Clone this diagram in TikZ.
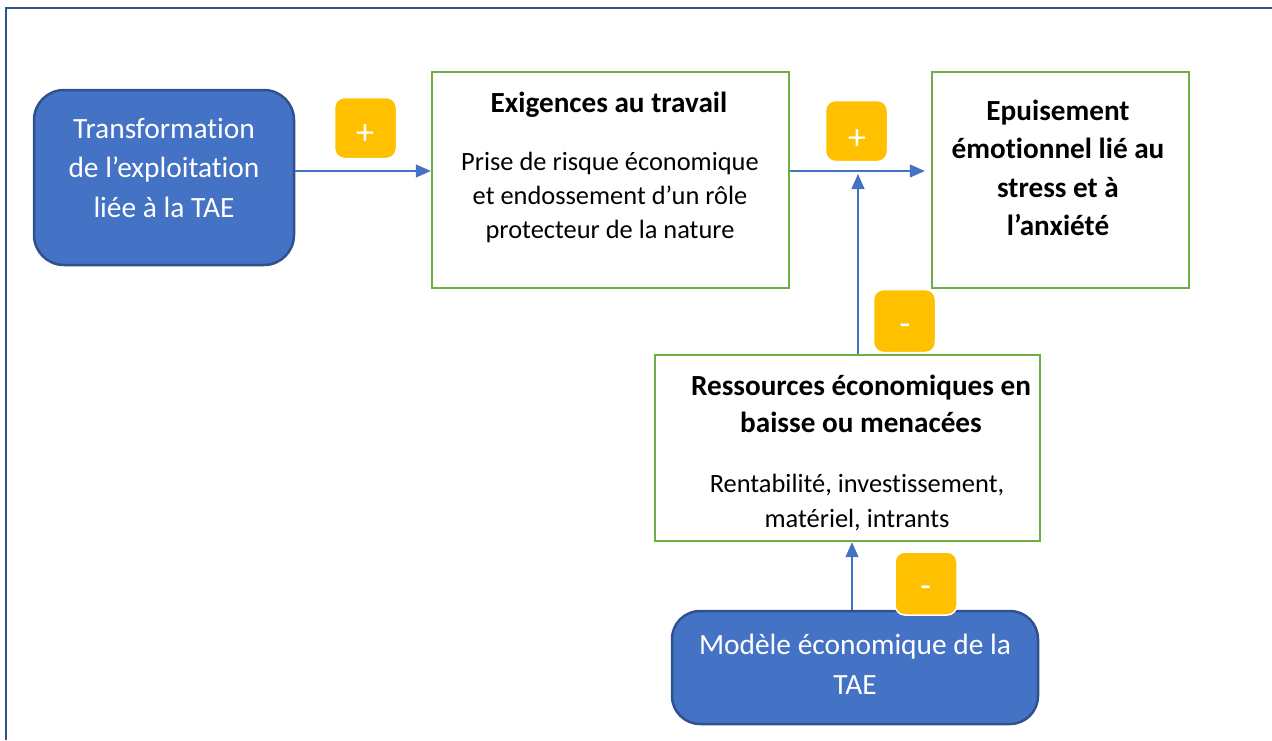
\documentclass[tikz,border=0pt]{standalone}
\usepackage{fontspec}
\setmainfont{Carlito}[Ligatures=NoCommon]
\usetikzlibrary{arrows.meta}
\definecolor{boxBlue}{HTML}{4472C4}
\definecolor{boxBlueDark}{HTML}{2F528F}
\definecolor{boxGreen}{HTML}{70AD47}
\definecolor{badgeOrange}{HTML}{FFC000}
\begin{document}
\begin{tikzpicture}[x=1pt, y=-1pt,
    blueStyle/.style={rectangle, draw=boxBlueDark, fill=boxBlue, line width=2.5pt, rounded corners=30pt, inner sep=0pt},
    greenStyle/.style={rectangle, draw=boxGreen, fill=white, line width=2.4pt, inner sep=0pt},
    badgeStyle/.style={rectangle, draw=white, fill=badgeOrange, line width=1.5pt, rounded corners=10pt, minimum width=62pt, minimum height=61pt},
    blueText/.style={anchor=base, align=center, text=white, inner sep=0pt, font=\fontsize{29.4}{39.5}\selectfont},
    titleText/.style={anchor=base, align=center, inner sep=0pt, font=\bfseries\fontsize{29.2}{37}\selectfont},
    bodyText/.style={anchor=base, align=center, inner sep=0pt, font=\fontsize{26.4}{34.5}\selectfont},
    signStyle/.style={text=white, inner sep=0pt, font=\fontsize{36}{40}\selectfont},
    arrowStyle/.style={draw=boxBlue, line width=1.2pt, -{Triangle[length=15pt, width=13pt]}}]
    \useasboundingbox (0,0) rectangle (1272,740);
    \draw[boxBlueDark, line width=2pt] (6,740) -- (6,8) -- (1272,8);

    \node[blueStyle, minimum width=260pt, minimum height=175pt] (trans) at (164, 177.5) {};
    \node[greenStyle, minimum width=357pt, minimum height=216pt] (exig) at (610.5, 180) {};
    \node[greenStyle, minimum width=257pt, minimum height=216pt] (epuis) at (1060.5, 180) {};
    \node[greenStyle, minimum width=385pt, minimum height=186pt] (ress) at (847.5, 448) {};
    \node[blueStyle, minimum width=366pt, minimum height=113pt, rounded corners=28pt] (modele) at (855, 667.5) {};

    % base anchors sit on the last line
    \node[blueText] (trans_t) at (164, 217) {Transformation\\de l’exploitation\\liée à la TAE};
    \node[titleText] (exig_t) at (609, 112) {Exigences au travail};
    \node[bodyText, font=\fontsize{26.4}{34}\selectfont] (exig_b) at (610, 238) {Prise de risque économique\\et endossement d’un rôle\\protecteur de la nature};
    \node[titleText, font=\bfseries\fontsize{29.2}{38.5}\selectfont] (epuis_t) at (1058, 235.5) {Epuisement\\émotionnel lié au\\stress et à\\l’anxiété};
    \node[titleText] (ress_t) at (861, 432) {Ressources économiques en\\baisse ou menacées};
    \node[bodyText, font=\fontsize{26.4}{35}\selectfont] (ress_b) at (857, 527) {Rentabilité, investissement,\\matériel, intrants};
    \node[blueText] (modele_t) at (855, 694) {Modèle économique de la\\TAE};

    \coordinate (mid) at (0, 171);
    \coordinate (join) at (858, 174);
    \coordinate (up) at (852, 0);

    \draw[arrowStyle] (trans.east |- mid) -- (exig.west |- mid);
    \draw[arrowStyle, shorten >=6pt] (exig.east |- mid) -- (epuis.west |- mid);
    \draw[arrowStyle] (ress.north -| join) -- (join);
    \draw[arrowStyle] (modele.north -| up) -- (ress.south -| up);

    \node[badgeStyle] (plus_1) at (365.5, 128) {};
    \node[signStyle] (plus_1_t) at (365, 135) {+};
    \node[badgeStyle] (plus_2) at (856.5, 131) {};
    \node[signStyle] (plus_2_t) at (857, 140) {+};
    \node[badgeStyle, minimum height=63pt] (minus_1) at (904.5, 321) {};
    \node[signStyle] (minus_1_t) at (905, 330) {-};
    \node[badgeStyle, minimum height=63pt] (minus_2) at (926, 583.5) {};
    \node[signStyle] (minus_2_t) at (926, 592) {-};
\end{tikzpicture}
\end{document}
